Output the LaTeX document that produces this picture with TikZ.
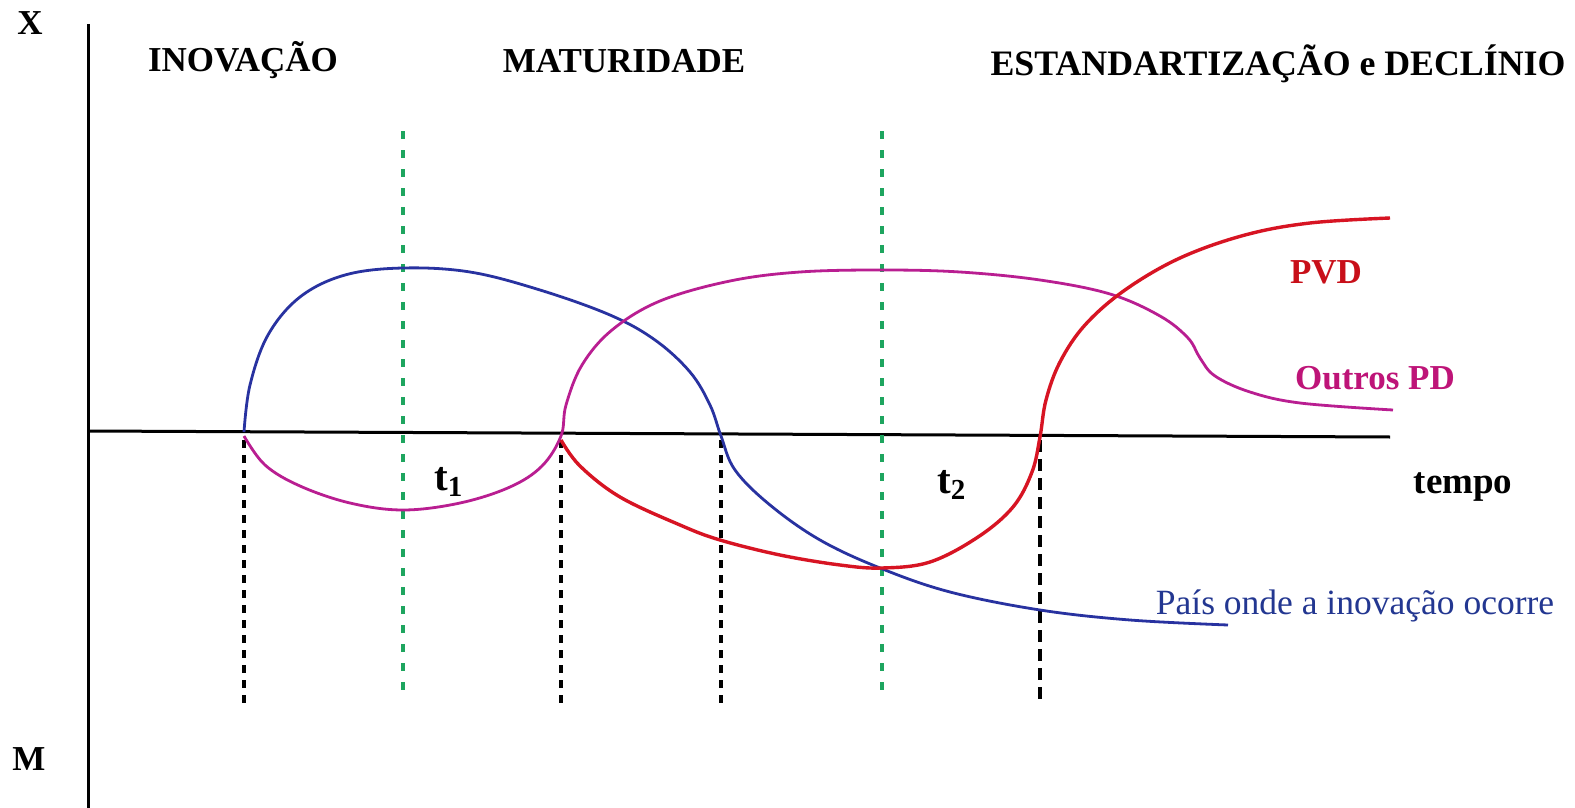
\documentclass[tikz,border=0pt]{standalone}
\usepackage{fontspec}
\setmainfont{Liberation Serif}
\definecolor{cblue}{RGB}{40,50,160}
\definecolor{cmag}{RGB}{185,30,145}
\definecolor{cred}{RGB}{215,20,35}
\definecolor{cgreen}{RGB}{30,165,95}
\definecolor{tred}{RGB}{200,15,25}
\definecolor{tmag}{RGB}{190,20,120}
\definecolor{tblue}{RGB}{35,55,145}
\tikzset{
  axisline/.style={line width=3pt, black},
  bluecurve/.style={draw=cblue, line width=2.8pt, smooth, tension=0.6},
  magcurve/.style={draw=cmag, line width=2.8pt},
  redcurve/.style={draw=cred, line width=3.4pt},
  blackdash/.style={black, line width=4pt, dash pattern=on 8pt off 7pt},
  blackdashbig/.style={black, line width=4.4pt, dash pattern=on 12pt off 7pt},
  greendash/.style={draw=cgreen, line width=3.4pt, dash pattern=on 8pt off 11pt},
  big/.style={font=\fontsize{35}{40}\selectfont\bfseries, inner sep=0pt},
  reg/.style={font=\fontsize{35.5}{40}\selectfont, inner sep=0pt},
  tlab/.style={font=\fontsize{41}{44}\selectfont\bfseries, inner sep=0pt}
}
\newcommand{\tsub}[1]{\raisebox{-6pt}{\fontsize{29}{30}\selectfont\bfseries #1}}
\begin{document}
\begin{tikzpicture}[x=1pt,y=-1pt]
\useasboundingbox[fill=white] (0,0) rectangle (1575,808);
% axes
\draw[axisline] (88,24) -- (88,808);
\draw[axisline] (88,431) -- (1390,437);
% dashed guides
\foreach \x in {244,561,721} \draw[blackdash] (\x,440) -- (\x,703);
\draw[blackdashbig] (1040,440) -- (1040,700);
\foreach \x in {403,882} \draw[greendash] (\x,131) -- (\x,693);
% blue curve
\draw[bluecurve] plot coordinates {(244,432) (250,385) (268,335) (300,297) (345,275) (403,268) (470,272) (540,290) (610,315) (655,340) (690,372) (710,405) (721,436) (735,470) (770,505) (820,540) (880,568) (950,592) (1040,610) (1130,620) (1228,625)};
% magenta curve
\draw[magcurve] plot[smooth, tension=0.6] coordinates {(244,436) (265,465) (300,486) (350,503) (403,510) (460,503) (510,487) (542,466) (561,436) (566,405) (582,365) (612,330) (660,301) (730,281) (800,272) (882,270) (960,272) (1040,280) (1110,294) (1160,316) (1188,338) (1200,358) (1215,376) (1250,392) (1300,403) (1393,410)};
% red curve
\draw[redcurve] plot[smooth, tension=0.6] coordinates {(561,440) (580,466) (620,497) (680,525) (720,540) (780,555) (840,565) (882,568) (930,562) (978,537) (1013,507) (1032,472) (1040,437) (1046,400) (1060,362) (1085,325) (1125,290) (1180,258) (1245,235) (1310,223) (1390,218)};
% labels
\node[big] (lx) at (30,23) {X};
\node[big] (lm) at (29,759) {M};
\node[big] (inov) at (243,60) {INOVAÇÃO};
\node[big] (mat) at (624,61) {MATURIDADE};
\node[big, font=\fontsize{35.8}{40}\selectfont\bfseries] (est) at (1278,64) {ESTANDARTIZAÇÃO e DECLÍNIO};
\node[big, text=tred] (pvd) at (1326,272) {PVD};
\node[big, text=tmag] (opd) at (1375,378) {Outros PD};
\node[big, font=\fontsize{37}{40}\selectfont\bfseries, anchor=base] (tempo) at (1463,493) {tempo};
\node[reg, text=tblue] (pais) at (1355,606) {País onde a inovação ocorre};
\node[tlab, anchor=base west] (t1) at (434,490) {t\tsub{1}};
\node[tlab, anchor=base west] (t2) at (937,493) {t\tsub{2}};
\end{tikzpicture}
\end{document}
